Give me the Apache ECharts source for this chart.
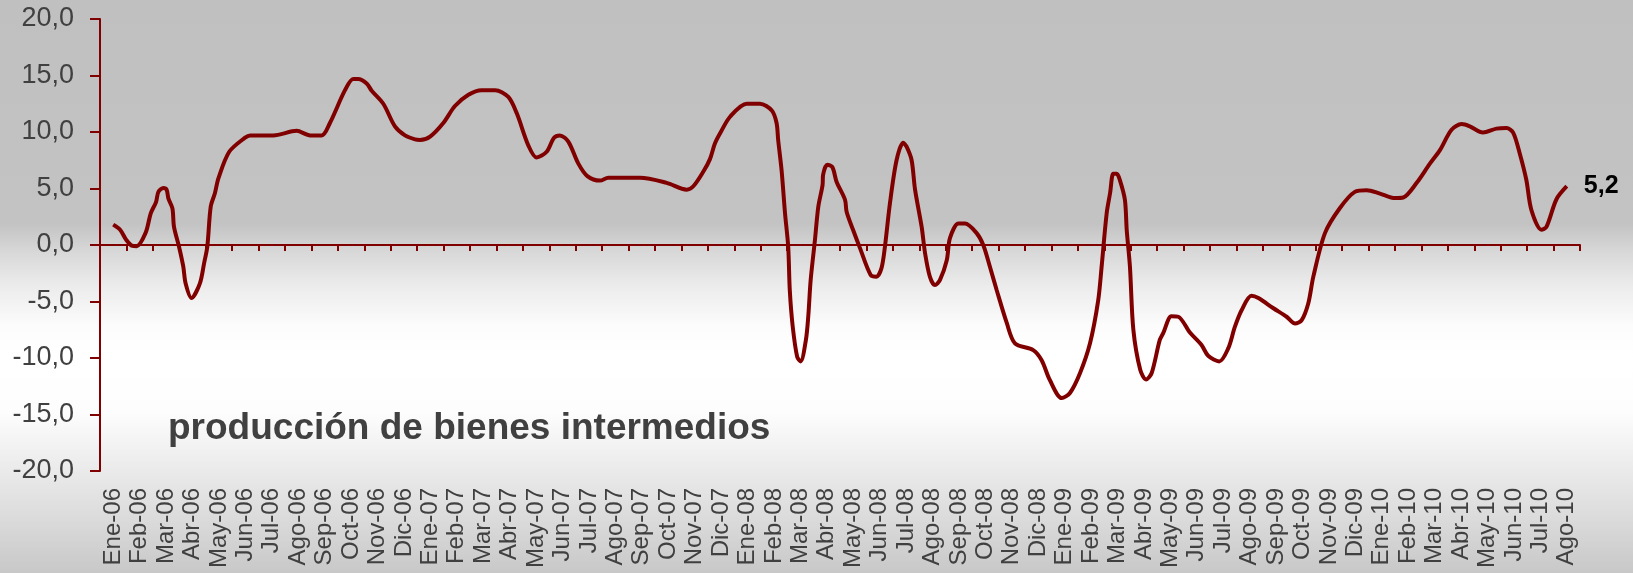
<!DOCTYPE html>
<html>
<head>
<meta charset="utf-8">
<style>html,body{margin:0;padding:0;}#c{width:1633px;height:573px;}</style>
<script src="https://cdn.jsdelivr.net/npm/echarts@6/dist/echarts.min.js"></script>
</head>
<body>
<div id="c"></div>
<script>
const months = ['Ene-06','Feb-06','Mar-06','Abr-06','May-06','Jun-06','Jul-06','Ago-06','Sep-06','Oct-06','Nov-06','Dic-06',
'Ene-07','Feb-07','Mar-07','Abr-07','May-07','Jun-07','Jul-07','Ago-07','Sep-07','Oct-07','Nov-07','Dic-07',
'Ene-08','Feb-08','Mar-08','Abr-08','May-08','Jun-08','Jul-08','Ago-08','Sep-08','Oct-08','Nov-08','Dic-08',
'Ene-09','Feb-09','Mar-09','Abr-09','May-09','Jun-09','Jul-09','Ago-09','Sep-09','Oct-09','Nov-09','Dic-09',
'Ene-10','Feb-10','Mar-10','Abr-10','May-10','Jun-10','Jul-10','Ago-10'];

// position of each reading, in months from Ene-06
const xPos = [0.00,0.26,0.48,0.70,0.89,1.23,1.42,1.62,1.71,1.90,2.02,2.09,2.24,2.30,2.49,2.65,2.74,2.96,3.28,3.44,3.56,3.69,3.85,3.98,4.39,4.99,5.18,6.06,6.94,7.45,7.89,8.20,8.77,9.08,9.27,9.59,9.78,10.22,10.66,11.04,11.42,11.61,11.99,12.49,12.93,13.44,13.94,14.45,14.95,15.27,15.71,16.02,16.40,16.68,16.90,17.22,17.60,17.94,18.42,18.73,19.93,20.94,21.70,21.95,22.33,22.58,22.77,22.99,23.34,23.97,24.47,24.92,25.10,25.16,25.29,25.42,25.54,25.60,25.71,25.88,26.01,26.21,26.30,26.39,26.55,26.68,26.84,26.86,27.02,27.21,27.37,27.69,27.75,28.00,28.26,28.66,28.88,29.07,29.20,29.39,29.64,29.89,30.02,30.21,30.34,30.59,30.72,30.90,31.09,31.28,31.54,31.66,31.98,32.23,32.67,32.92,33.17,33.43,33.81,34.12,34.81,35.13,35.44,35.89,36.20,36.58,36.96,37.27,37.40,37.59,37.72,37.84,37.97,38.09,38.28,38.35,38.47,38.60,38.86,39.08,39.29,39.60,39.73,40.04,40.30,40.74,41.18,41.43,41.85,42.19,42.44,42.70,43.07,43.33,43.90,44.40,44.72,44.97,45.22,45.41,45.85,46.41,46.98,47.43,47.93,48.50,48.81,49.32,49.82,50.20,50.64,51.02,51.33,51.83,52.34,52.72,52.97,53.22,53.47,53.66,54.04,54.23,54.61,55.00];

const values = [1.8,1.35,0.5,-0.05,-0.1,1.1,2.8,3.8,4.7,5.05,4.9,4.1,3.25,1.6,-0.15,-1.9,-3.4,-4.7,-3.4,-1.6,-0.15,3.4,4.6,5.9,8.25,9.5,9.7,9.7,10.1,9.7,9.7,10.8,13.7,14.7,14.7,14.3,13.65,12.5,10.5,9.7,9.35,9.3,9.6,10.8,12.3,13.3,13.7,13.7,13.1,11.65,8.8,7.75,8.25,9.5,9.7,9.15,7.2,6.1,5.7,5.95,5.95,5.5,4.9,5.2,6.5,7.6,9.0,10.0,11.35,12.5,12.5,11.9,10.8,9.3,6.6,2.8,-0.15,-4.0,-7.2,-9.9,-10.3,-8.4,-6.3,-3.1,0.4,3.4,5.3,6.2,7.1,6.9,5.6,4.0,2.95,1.3,-0.3,-2.65,-2.8,-2.05,-0.15,3.7,7.5,9.05,8.7,7.5,4.9,1.6,-0.75,-2.8,-3.55,-3.1,-1.35,0.6,1.9,1.9,1.05,0,-1.9,-4.0,-6.9,-8.7,-9.3,-10.2,-11.95,-13.55,-13.1,-11.35,-8.7,-4.9,-1.9,2.8,4.6,6.3,6.3,5.75,4.0,1.3,-1.9,-7.5,-11.05,-11.9,-11.35,-8.4,-7.8,-6.3,-6.35,-7.75,-8.85,-9.8,-10.3,-9.15,-7.25,-5.75,-4.5,-4.7,-5.6,-6.35,-6.95,-6.65,-5.15,-2.8,1.05,3.25,4.7,4.85,4.55,4.15,4.2,5.5,7.2,8.4,10.2,10.7,10.5,9.95,10.3,10.35,9.95,8.1,5.75,3.1,1.35,1.6,4.05,5.2];

const yTicks = [-20,-15,-10,-5,0,5,10,15,20];
const titleText = 'producción de bienes intermedios';

const fmt = v => v.toFixed(1).replace('.', ',');
const FONT = "'Liberation Sans', Arial, sans-serif";
const RED = '#800000';

const data = xPos.map((x, i) => [x, values[i]]);

const chart = echarts.init(document.getElementById('c'), null, {renderer: 'canvas'});
chart.setOption({
  backgroundColor: {
    type: 'linear', x: 0, y: 0, x2: 0, y2: 1,
    colorStops: [
      {offset: 0, color: '#c0c0c0'},
      {offset: 0.39, color: '#c3c3c3'},
      {offset: 0.44, color: '#d8d8d8'},
      {offset: 0.50, color: '#ececec'},
      {offset: 0.57, color: '#fcfcfc'},
      {offset: 0.62, color: '#ffffff'},
      {offset: 0.72, color: '#fdfdfd'},
      {offset: 0.80, color: '#eeeeee'},
      {offset: 0.90, color: '#dcdcdc'},
      {offset: 1, color: '#c8c8c8'}
    ]
  },
  animation: false,
  grid: {left: 100, right: 53, top: 19, bottom: 102, containLabel: false},
  graphic: [{
    type: 'text', left: 168, top: 410,
    style: {text: titleText, font: "bold 37px 'Liberation Sans', Arial, sans-serif", fill: '#404040'}
  }],
  xAxis: [
    {
      type: 'category', data: months, position: 'bottom', boundaryGap: true,
      axisLine: {show: false, onZero: false},
      axisTick: {show: false},
      axisLabel: {interval: 0, rotate: 90, margin: 17, fontFamily: FONT, fontSize: 24, color: '#404040'},
      splitLine: {show: false}
    },
    {
      type: 'category', data: months, position: 'bottom', boundaryGap: true,
      axisLine: {show: true, onZero: true, lineStyle: {color: RED, width: 2}},
      axisTick: {show: true, interval: 0, inside: false, length: 6, lineStyle: {color: RED, width: 2}},
      axisLabel: {show: false},
      splitLine: {show: false}
    },
    {
      type: 'value', min: -0.5, max: 55.5, show: false, position: 'top',
      axisLine: {onZero: false}, splitLine: {show: false}
    }
  ],
  yAxis: {
    type: 'value', min: -20, max: 20, interval: 5,
    axisLine: {show: true, onZero: false, lineStyle: {color: RED, width: 2}},
    axisTick: {show: true, inside: false, length: 10, lineStyle: {color: RED, width: 2}},
    axisLabel: {margin: 26, formatter: v => fmt(v), fontFamily: FONT, fontSize: 27, color: '#404040'},
    splitLine: {show: false}
  },
  series: [{
    type: 'line', xAxisIndex: 2, data: data,
    smooth: 0.3, symbol: 'none', showSymbol: false,
    lineStyle: {color: RED, width: 4},
    itemStyle: {color: RED},
    endLabel: {
      show: true, distance: 17,
      formatter: p => fmt(p.value[1]),
      fontFamily: FONT, fontWeight: 'bold', fontSize: 25, color: '#000'
    },
    z: 5
  }]
});
</script>
</body>
</html>
